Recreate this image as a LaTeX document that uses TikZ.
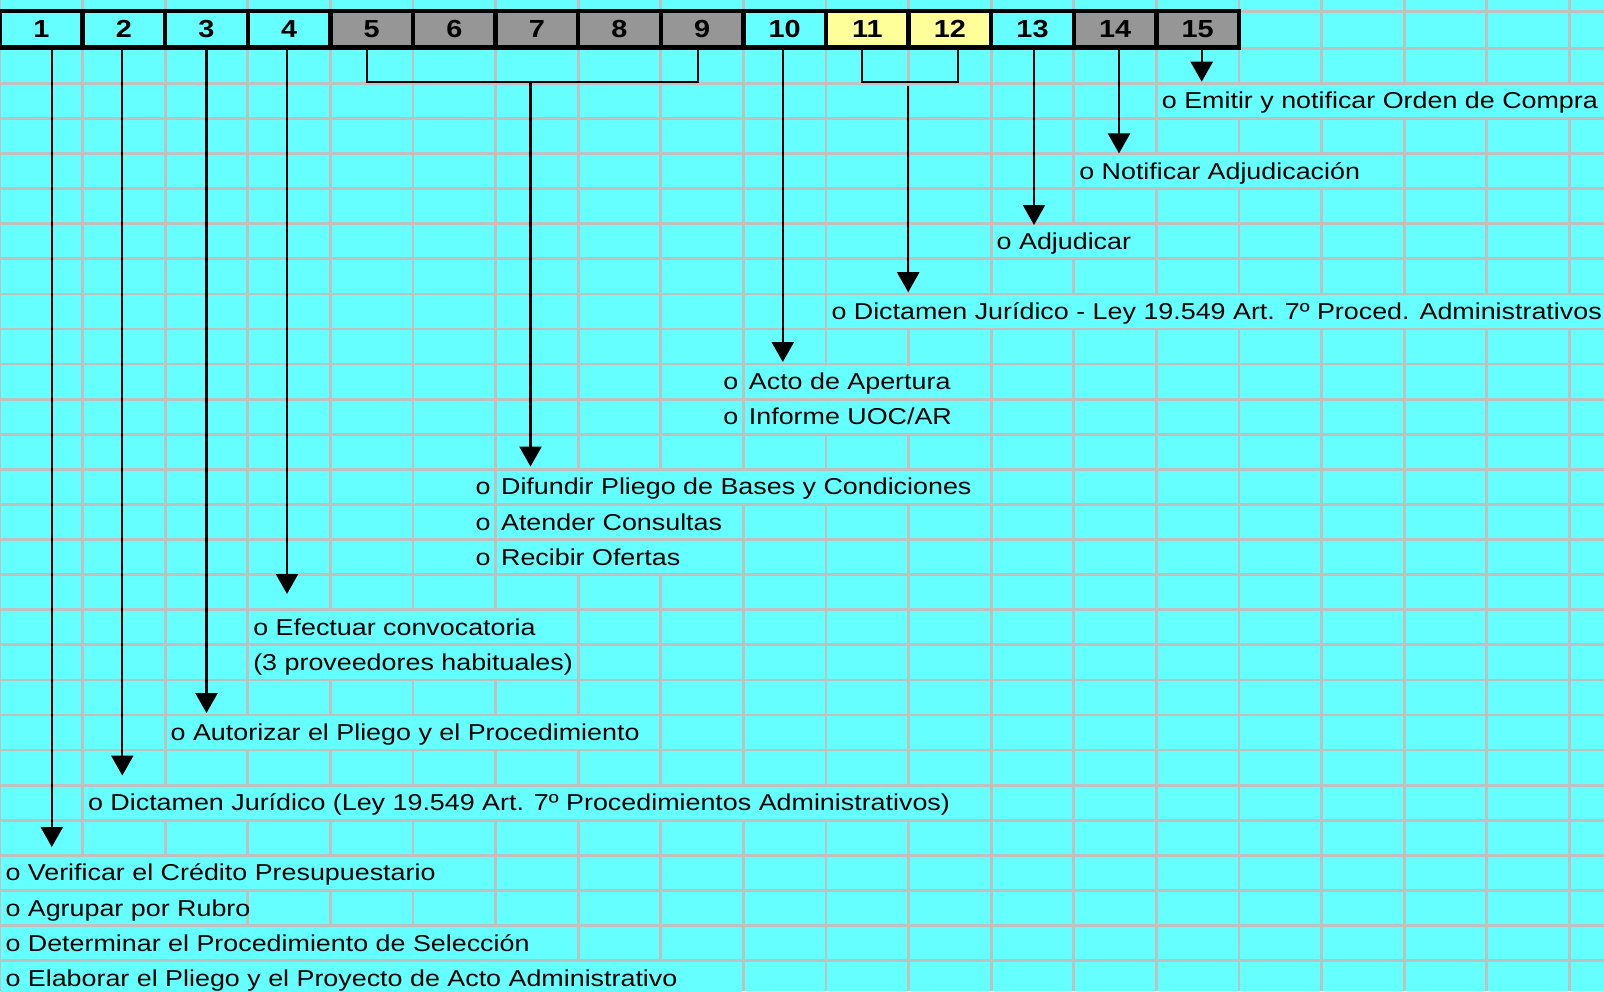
\documentclass[tikz,border=0pt]{standalone}
\usepackage{fontspec}
\setmainfont{Liberation Sans}[FakeStretch=1.168]
\usetikzlibrary{arrows.meta}
\definecolor{bgc}{HTML}{66FFFF}
\definecolor{gridc}{HTML}{C0C0C0}
\definecolor{hgrey}{HTML}{969696}
\definecolor{hyel}{HTML}{FFFF99}
\def\cw{82.6}
\def\rh{35.09}
\newcommand\cellcover[3]{\fill[bgc] ({\cw*#1+1.4},{48.3+\rh*#3+1.4}) rectangle ({\cw*(#2+1)-1.4},{48.3+\rh*(#3+1)-1.4});}
\tikzset{
  txt/.style={anchor=base west, inner sep=0pt, outer sep=0pt, font=\fontsize{23}{27}\selectfont},
  otxt/.style={anchor=base east, inner sep=0pt, outer sep=0pt, font=\fontsize{23}{27}\selectfont},
  hcell/.style={draw=black, line width=4.5pt, minimum width=82.6pt, minimum height=36.5pt, inner sep=0pt, outer sep=0pt, font=\fontsize{24.7}{28}\selectfont\bfseries},
  arr/.style={line width=2.3pt, -{Triangle[width=22pt,length=20pt]}},
  brk/.style={line width=1.9pt},
  gridline/.style={draw=gridc, line width=2.7pt},
}
\begin{document}
\begin{tikzpicture}[x=1pt,y=-1pt]
\useasboundingbox (0,0) rectangle (1604,991);
\fill[bgc] (0,0) rectangle (1604,991);
% grid
\foreach \j in {0,...,19} { \draw[gridline] ({\cw*\j},0) -- ({\cw*\j},991); }
\draw[gridline] (0,11.7) -- (1604,11.7);
\foreach \k in {0,...,27} { \draw[gridline] (0,{48.3+\rh*\k}) -- (1604,{48.3+\rh*\k}); }
% covers for overflowing texts
\cellcover{14}{19}{1}
\cellcover{13}{16}{3}
\cellcover{12}{13}{5}
\cellcover{10}{19}{7}
\cellcover{9}{11}{9}
\cellcover{9}{11}{10}
\cellcover{6}{11}{12}
\cellcover{6}{8}{13}
\cellcover{6}{8}{14}
\cellcover{3}{6}{16}
\cellcover{3}{6}{17}
\cellcover{2}{7}{19}
\cellcover{1}{11}{21}
\cellcover{0}{5}{23}
\cellcover{0}{2}{24}
\cellcover{0}{6}{25}
\cellcover{0}{8}{26}
% header
\foreach \i/\col in {1/bgc,2/bgc,3/bgc,4/bgc,5/hgrey,6/hgrey,7/hgrey,8/hgrey,9/hgrey,10/bgc,11/hyel,12/hyel,13/bgc,14/hgrey,15/hgrey} {
  \node[hcell, fill=\col] (c\i) at ({\cw*(\i-0.5)},29.25) {\i};
}
% texts
\node[txt] (x15) at (1161.9,108.94) {o Emitir y notificar Orden de Compra};
\node[txt] (x14) at (1079.3,179.12) {o Notificar Adjudicación};
\node[txt] (x13) at (996.7,249.30) {o Adjudicar};
\node[txt] (x12) at (831.5,319.48) {o Dictamen Jurídico - Ley 19.549 Art. 7º Proced. Administrativos};
\node[otxt] (o10a) at (738.4,389.66) {o};
\node[txt] (x10a) at (748.9,389.66) {Acto de Apertura};
\node[otxt] (o10b) at (738.4,424.75) {o};
\node[txt] (x10b) at (748.9,424.75) {Informe UOC/AR};
\node[otxt] (o5a) at (490.6,494.93) {o};
\node[txt] (x5a) at (501.1,494.93) {Difundir Pliego de Bases y Condiciones};
\node[otxt] (o5b) at (490.6,530.02) {o};
\node[txt] (x5b) at (501.1,530.02) {Atender Consultas};
\node[otxt] (o5c) at (490.6,565.11) {o};
\node[txt] (x5c) at (501.1,565.11) {Recibir Ofertas};
\node[txt] (x4a) at (253.3,635.29) {o Efectuar convocatoria};
\node[txt] (x4b) at (253.3,670.38) {(3 proveedores habituales)};
\node[txt] (x3) at (170.7,740.56) {o Autorizar el Pliego y el Procedimiento};
\node[txt] (x2) at (88.1,810.74) {o Dictamen Jurídico (Ley 19.549 Art. 7º Procedimientos Administrativos)};
\node[txt] (x1a) at (5.5,880.92) {o Verificar el Crédito Presupuestario};
\node[txt] (x1b) at (5.5,916.01) {o Agrupar por Rubro};
\node[txt] (x1c) at (5.5,951.10) {o Determinar el Procedimiento de Selección};
\node[txt] (x1d) at (5.5,986.19) {o Elaborar el Pliego y el Proyecto de Acto Administrativo};
% arrow tips
\coordinate (t1) at (51.8,847);
\coordinate (t2) at (122.3,775.5);
\coordinate (t3) at (206.5,713);
\coordinate (t4) at (287,594);
\coordinate (t59) at (530.5,466.5);
\coordinate (t10) at (782.8,362);
\coordinate (t1112) at (908.2,292.2);
\coordinate (t13) at (1034,225);
\coordinate (t14) at (1119,153.4);
\coordinate (t15) at (1201.7,81.7);
% brackets
\coordinate (b5) at (366.7,82.3);
\coordinate (b9) at (697.7,82.3);
\coordinate (m59) at (530.5,82.3);
\coordinate (b11) at (861.7,82.3);
\coordinate (b12) at (957.7,82.3);
\coordinate (m1112) at (908.2,86);
\draw[brk] (b5 |- c5.south) -- (b5) -- (b9) -- (b9 |- c9.south);
\draw[brk] (b11 |- c11.south) -- (b11) -- (b12) -- (b12 |- c12.south);
% arrows
\draw[arr] (t1 |- c1.south) -- (t1);
\draw[arr] (t2 |- c2.south) -- (t2);
\draw[arr] (t3 |- c3.south) -- (t3);
\draw[arr] (t4 |- c4.south) -- (t4);
\draw[arr] (m59) -- (t59);
\draw[arr] (t10 |- c10.south) -- (t10);
\draw[arr] (m1112) -- (t1112);
\draw[arr] (t13 |- c13.south) -- (t13);
\draw[arr] (t14 |- c14.south) -- (t14);
\draw[arr] (t15 |- c15.south) -- (t15);
\end{tikzpicture}
\end{document}
